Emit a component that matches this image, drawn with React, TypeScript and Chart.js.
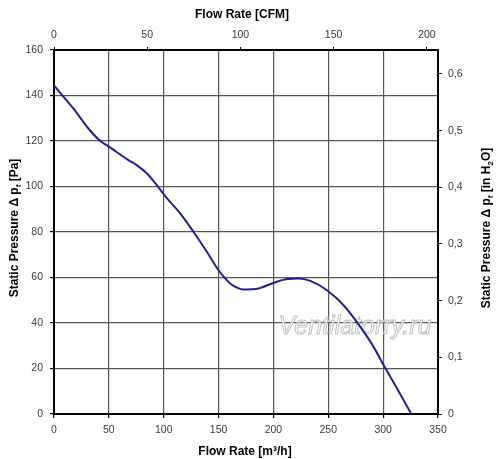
import React, { useEffect, useRef } from "react";
import { Chart, registerables } from "chart.js";

Chart.register(...registerables);

// Flow rate in m³/h and static pressure in Pa
const flowRate = [0, 17.6, 31.3, 42, 51, 67.8, 75.4, 84.5, 93.7, 101.3, 115, 127.1, 139.3, 150, 156, 160.6, 166.7, 172.7, 186.4, 200, 212.3, 222.9, 233.6, 248.8, 264, 279.2, 291.3, 300.5, 312.7, 325.7];
const staticPressure = [144.4, 134.3, 125.5, 120.1, 117.2, 111.6, 109.4, 105.8, 100.6, 95.8, 88.2, 80.1, 71.3, 63.2, 59.6, 57.4, 55.6, 54.7, 55.2, 57.6, 59.3, 59.6, 58.5, 54.4, 47.8, 38.3, 29.5, 21.4, 11.2, 0];

const xMin = 0;
const xMax = 350;
const yMin = 0;
const yMax = 160;
const M3H_PER_CFM = 1.699;
const PA_PER_INH2O = 249.089;

const topTitle = "Flow Rate [CFM]";
const bottomTitle = "Flow Rate [m³/h]";
const leftTitle = [{ t: "Static Pressure Δ p" }, { t: "f", sub: true }, { t: " [Pa]" }];
const rightTitle = [{ t: "Static Pressure Δ p" }, { t: "f", sub: true }, { t: " [in H" }, { t: "2", sub: true }, { t: "O]" }];
const watermark = "Ventilatorry.ru";

const FONT = "'Liberation Sans', Arial, sans-serif";

type Seg = { t: string; sub?: boolean };

function drawRich(ctx: CanvasRenderingContext2D, segs: Seg[], cx: number, cy: number, rot: number, size: number) {
  const big = `bold ${size}px ${FONT}`;
  const small = `bold ${Math.round(size * 0.7)}px ${FONT}`;
  let total = 0;
  const widths = segs.map((s) => {
    ctx.font = s.sub ? small : big;
    const w = ctx.measureText(s.t).width;
    total += w;
    return w;
  });
  ctx.save();
  ctx.translate(cx, cy);
  ctx.rotate(rot);
  ctx.fillStyle = "#000";
  ctx.textBaseline = "alphabetic";
  ctx.textAlign = "left";
  let x = -total / 2;
  const base = size * 0.36;
  segs.forEach((s, i) => {
    ctx.font = s.sub ? small : big;
    ctx.fillText(s.t, x, s.sub ? base + size * 0.2 : base);
    x += widths[i];
  });
  ctx.restore();
}

const titlesPlugin = {
  id: "titles",
  beforeDatasetsDraw(chart: any) {
    const ctx = chart.ctx as CanvasRenderingContext2D;
    ctx.save();
    ctx.font = `italic 25px ${FONT}`;
    ctx.textAlign = "center";
    ctx.textBaseline = "middle";
    ctx.lineWidth = 1;
    ctx.fillStyle = "rgba(255,255,255,0.8)";
    ctx.strokeStyle = "rgba(185,185,185,0.9)";
    ctx.fillText(watermark, 355, 327);
    ctx.strokeText(watermark, 355, 327);
    ctx.restore();
  },
  afterDraw(chart: any) {
    const ctx = chart.ctx as CanvasRenderingContext2D;
    drawRich(ctx, [{ t: topTitle }], 242, 14, 0, 12);
    drawRich(ctx, [{ t: bottomTitle }], 245, 451, 0, 12);
    drawRich(ctx, leftTitle, 14, 228, -Math.PI / 2, 12);
    drawRich(ctx, rightTitle, 486, 228, -Math.PI / 2, 12);
  },
};

export default function App() {
  const ref = useRef<HTMLCanvasElement | null>(null);
  useEffect(() => {
    if (!ref.current) return;
    const tickFont = { family: FONT, size: 10.5 };
    const chart = new Chart(ref.current, {
      type: "scatter",
      data: {
        datasets: [
          {
            data: flowRate.map((x, i) => ({ x, y: staticPressure[i] })),
            showLine: true,
            borderColor: "#22228c",
            borderWidth: 2,
            pointRadius: 0,
            cubicInterpolationMode: "monotone",
            xAxisID: "x",
            yAxisID: "y",
          } as any,
        ],
      },
      options: {
        responsive: false,
        animation: false,
        layout: { padding: 0 },
        plugins: { legend: { display: false }, tooltip: { enabled: false } },
        scales: {
          x: {
            type: "linear",
            position: "bottom",
            min: xMin,
            max: xMax,
            ticks: { stepSize: 50, color: "#3a3a3a", font: tickFont, padding: 6, maxRotation: 0 },
            grid: { color: "#555", lineWidth: 1.2, tickColor: "#000", tickLength: 4 },
            border: { color: "#000", width: 2 },
            afterFit: (s: any) => { s.height = 45; },
          },
          x2: {
            type: "linear",
            position: "top",
            min: xMin / M3H_PER_CFM,
            max: xMax / M3H_PER_CFM,
            ticks: { stepSize: 50, includeBounds: false, color: "#3a3a3a", font: tickFont, padding: 6, maxRotation: 0 },
            grid: { drawOnChartArea: false, tickColor: "#000", tickLength: 3 },
            border: { color: "#000", width: 2 },
            afterFit: (s: any) => { s.height = 50; },
          },
          y: {
            type: "linear",
            position: "left",
            min: yMin,
            max: yMax,
            ticks: { stepSize: 20, color: "#3a3a3a", font: tickFont, padding: 7 },
            grid: { color: "#555", lineWidth: 1.2, tickColor: "#000", tickLength: 4 },
            border: { color: "#000", width: 2 },
            afterFit: (s: any) => { s.width = 54; },
          },
          y2: {
            type: "linear",
            position: "right",
            min: yMin / PA_PER_INH2O,
            max: yMax / PA_PER_INH2O,
            ticks: {
              stepSize: 0.1,
              includeBounds: false,
              color: "#3a3a3a",
              font: tickFont,
              padding: 6,
              callback: (v: any) => (Math.abs(v) < 1e-9 ? "0" : Number(v).toFixed(1).replace(".", ",")),
            },
            grid: { drawOnChartArea: false, tickColor: "#000", tickLength: 4 },
            border: { color: "#000", width: 2 },
            afterFit: (s: any) => { s.width = 62; },
          },
        },
      } as any,
      plugins: [titlesPlugin],
    });
    return () => chart.destroy();
  }, []);
  return (
    <div style={{ position: "fixed", left: 0, top: 0, width: 500, height: 459, background: "#fff" }}>
      <canvas ref={ref} width={500} height={459} />
    </div>
  );
}
